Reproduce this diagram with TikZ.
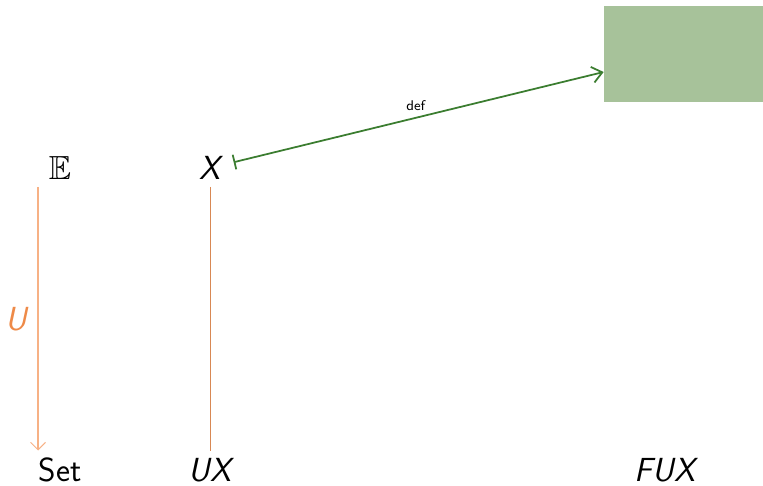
\documentclass[tikz,border=0pt]{standalone}
\usepackage{amssymb}
\usepackage{xcolor}
\usetikzlibrary{positioning, arrows.meta, calc}
\definecolor{funct}{HTML}{F7B185}
\definecolor{functdark}{HTML}{EE8A48}
\definecolor{unit}{HTML}{3B7D30}
\definecolor{unitfill}{HTML}{A7C29A}

\begin{document}
\begin{tikzpicture}[x=0.02cm, y=0.02cm, font=\sffamily\fontsize{19}{23}\selectfont,
  obj/.style={inner sep=0.4em},
  hole/.style={fill=unitfill, minimum width=3.18cm, minimum height=1.92cm, inner sep=0pt},
  farr/.style={-{Straight Barb[length=1.5mm]}, semithick, funct},
  fline/.style={thin, functdark!80!gray},
  uarr/.style={{Bar[width=3mm]}-{Straight Barb[length=2mm, width=3.2mm]}, semithick, line width=1pt, unit, shorten <=0.12cm}
]
  \useasboundingbox (0,0) rectangle (763,486);
  \node[obj] (E) at (60,318) {$\mathbb{E}$};
  \node[obj] (X) at (210,318) {\itshape X};
  \node[obj] (set) at (60,16) {Set};
  \node[obj] (UX) at (210,16) {\itshape UX};
  \node[obj] (FUX) at (665,16) {\itshape FUX};
  \node[hole] (box) at (683.5,432) {};

  \draw[farr] ([xshift=-0.44cm]E.south) -- node[left, xshift=-0.1cm, functdark] {\itshape U} ([xshift=-0.44cm]set.north);
  \draw[fline] (X) -- (UX);
  \draw[uarr] (X) -- node[above, font=\sffamily\footnotesize, black] {def} ($(box.west)+(0,-18)$);
\end{tikzpicture}
\end{document}
